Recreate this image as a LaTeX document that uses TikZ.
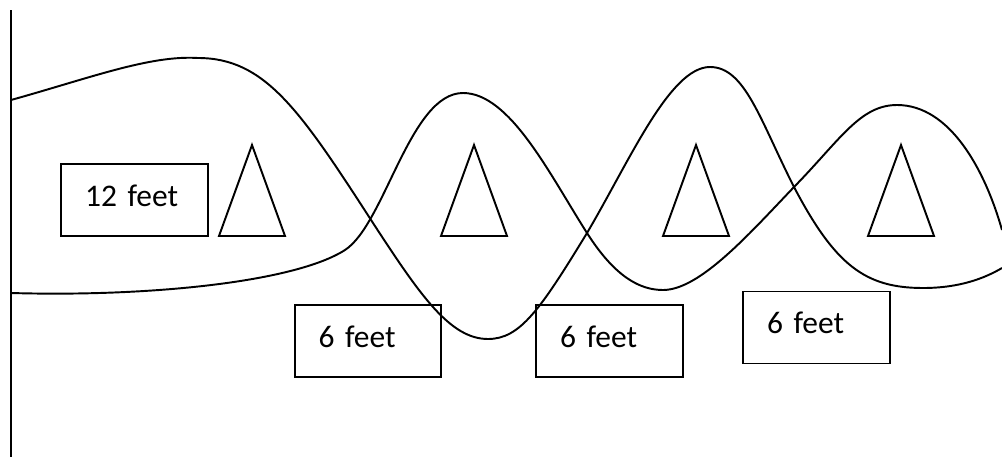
\documentclass[tikz,border=0pt]{standalone}
\usepackage{fontspec}
\setmainfont{Carlito}
\usepackage{tikz}
\usetikzlibrary{positioning}

\begin{document}
\begin{tikzpicture}[
  x=0.75pt, y=-0.75pt,
  line width=1.45pt,
  feetbox/.style={draw, rectangle, line width=1.45pt, minimum height=54pt, text width=74pt, text height=16pt, text depth=7pt, inner xsep=18pt, align=left, font=\fontsize{23.6}{28}\selectfont},
  cone/.style={line width=1.45pt, line join=miter}
]
\useasboundingbox (0,0) rectangle (1002,457);

% Wall
\draw (11,10) -- (11,457);

% Path 1
\draw (11,100) .. controls (90,78) and (150,55) .. (198,58)
  .. controls (265,58) and (300,110) .. (373,223)
  .. controls (420,295) and (450,339) .. (488,339)
  .. controls (520,339) and (540,310) .. (587,233)
  .. controls (630,160) and (670,67) .. (710,67)
  .. controls (745,67) and (760,120) .. (794,187)
  .. controls (835,265) and (865,288) .. (923,288)
  .. controls (960,288) and (985,278) .. (1002,268);

% Path 2
\draw (11,293) .. controls (150,297) and (295,282) .. (345,250)
  .. controls (385,224) and (410,93) .. (463,93)
  .. controls (510,93) and (550,175) .. (587,233)
  .. controls (615,277) and (640,290) .. (663,290)
  .. controls (700,290) and (750,233) .. (794,187)
  .. controls (840,140) and (860,105) .. (897,105)
  .. controls (950,105) and (985,170) .. (1002,230);

% Cones
\foreach \cx in {252, 474, 696, 901}
  \draw[cone] (\cx,145) -- (\cx+33,236) -- (\cx-33,236) -- cycle;

% Labels
\node[feetbox] (twelve) at (134.5,200) {12 feet};
\node[feetbox] (sixa) at (368,341) {6 feet};
\node[feetbox] (sixb) at (609.5,341) {6 feet};
\node[feetbox] (sixc) at (816.5,327.5) {6 feet};

\end{tikzpicture}
\end{document}
